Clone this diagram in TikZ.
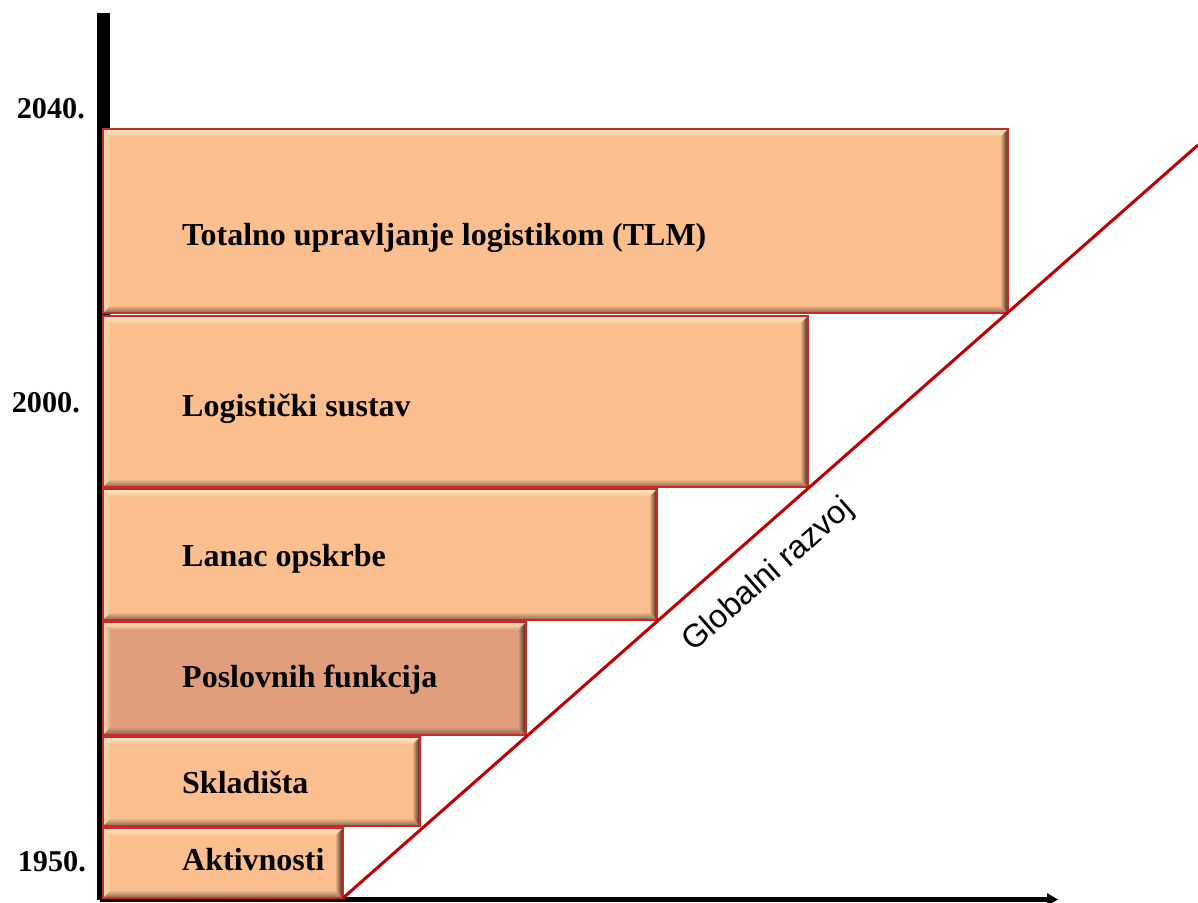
\documentclass[tikz,border=0pt]{standalone}
\usepackage{fontspec}
\setmainfont{Liberation Serif}
\newfontfamily\arialf{Liberation Sans}
\usetikzlibrary{arrows.meta}
\definecolor{barfill}{RGB}{251,191,143}
\definecolor{bardark}{RGB}{224,158,124}
\definecolor{barline}{RGB}{205,40,40}
\definecolor{bevtop}{RGB}{255,238,195}
\definecolor{bevright}{RGB}{60,32,20}
\definecolor{bevbot}{RGB}{130,100,75}
\definecolor{bevleft}{RGB}{255,218,178}
\definecolor{trend}{RGB}{192,0,0}
\tikzset{
  bar/.style={rectangle, inner sep=0pt, outer sep=0pt, anchor=north west,
    fill=#1, draw=barline, line width=1.2pt,
    path picture={
      \path (path picture bounding box.north west) coordinate (pnw)
            (path picture bounding box.north east) coordinate (pne)
            (path picture bounding box.south east) coordinate (pse)
            (path picture bounding box.south west) coordinate (psw);
      \shade[left color=bevleft, right color=#1] (pnw) -- ([xshift=8pt,yshift=-8pt]pnw) -- ([xshift=8pt,yshift=8pt]psw) -- (psw) -- cycle;
      \shade[top color=bevtop, bottom color=#1] (pnw) -- (pne) -- ([xshift=-8pt,yshift=-8pt]pne) -- ([xshift=8pt,yshift=-8pt]pnw) -- cycle;
      \shade[top color=#1, bottom color=bevbot] (psw) -- (pse) -- ([xshift=-8pt,yshift=8pt]pse) -- ([xshift=8pt,yshift=8pt]psw) -- cycle;
      \shade[left color=#1, right color=bevright] (pne) -- (pse) -- ([xshift=-8pt,yshift=8pt]pse) -- ([xshift=-8pt,yshift=-8pt]pne) -- cycle;
    }},
  lbl/.style={font=\bfseries\fontsize{32}{38}\selectfont, inner sep=0pt, text=black},
  yearlbl/.style={font=\bfseries\fontsize{30.2}{36}\selectfont, inner sep=0pt, text=black},
  axisline/.style={draw=black},
  trendline/.style={draw=trend, line width=3pt},
  trendlbl/.style={font=\arialf\fontsize{32.5}{38}\selectfont, inner sep=0pt, text=black}
}
\begin{document}
\begin{tikzpicture}[x=1pt,y=-1pt]
\useasboundingbox (0,0) rectangle (1198,902);
% axes
\coordinate (ytop) at (103,13);
\coordinate (ybot) at (103,900);
\coordinate (xorig) at (100,899.5);
\coordinate (xend) at (1058,899.5);
\draw[axisline, line width=13pt] (ytop) -- (ybot);
\draw[axisline, line width=5pt, -{Triangle[length=11pt,width=12pt]}] (xorig) -- (xend);
% bars
\node[bar=barfill, minimum width=905pt, minimum height=184pt] (tlm) at (103,129) {};
\node[bar=barfill, minimum width=705pt, minimum height=171pt] (log) at (103,316) {};
\node[bar=barfill, minimum width=554pt, minimum height=131pt] (lan) at (103,489) {};
\node[bar=bardark, minimum width=423pt, minimum height=113pt] (pos) at (103,622) {};
\node[bar=barfill, minimum width=317pt, minimum height=89pt] (skl) at (103,737) {};
\node[bar=barfill, minimum width=240pt, minimum height=70pt] (akt) at (103,828) {};
% bar labels
\node[lbl, anchor=base west] (tlmt) at (182,245) {Totalno upravljanje logistikom (TLM)};
\node[lbl, anchor=base west] (logt) at (182,416) {Logistički sustav};
\node[lbl, anchor=base west] (lant) at (182,566) {Lanac opskrbe};
\node[lbl, anchor=base west] (post) at (182,687) {Poslovnih funkcija};
\node[lbl, anchor=base west] (sklt) at (182,793) {Skladišta};
\node[lbl, anchor=base west] (aktt) at (182,870) {Aktivnosti};
% years
\node[yearlbl, anchor=base east] (y2040) at (85,118) {2040.};
\node[yearlbl, anchor=base east] (y2000) at (80,412) {2000.};
\node[yearlbl, anchor=base east] (y1950) at (86,871) {1950.};
% trend
\coordinate (gtop) at (1198,145);
\draw[trendline] (akt.south east) -- (gtop);
\node[trendlbl, rotate=41.3, anchor=base] (glob) at (774,582) {Globalni razvoj};
\end{tikzpicture}
\end{document}
